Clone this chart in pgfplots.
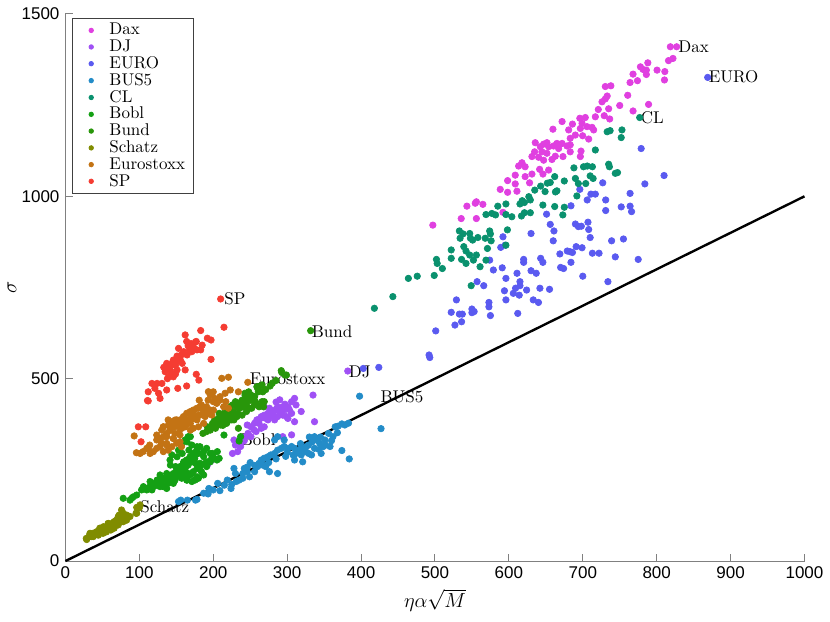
\documentclass[border=0pt]{standalone}
\usepackage{pgfplots}
\pgfplotsset{compat=1.18}
\usepackage{fontspec}
\newfontfamily\tickfont{Liberation Sans}
\definecolor{cDax}{HTML}{E040E0}
\definecolor{cDJ}{HTML}{A050F5}
\definecolor{cEURO}{HTML}{5A5AF0}
\definecolor{cBUS}{HTML}{238CC8}
\definecolor{cCL}{HTML}{0A916E}
\definecolor{cBobl}{HTML}{14A014}
\definecolor{cBund}{HTML}{28960A}
\definecolor{cSchatz}{HTML}{808C00}
\definecolor{cEuro}{HTML}{C37314}
\definecolor{cSP}{HTML}{F53C32}
\pgfplotsset{myleg/.style={only marks, mark=*, mark size=1.9pt,
  legend image code/.code={\fill[white] (0pt,-0.5pt) rectangle (16.5pt,0.5pt); \draw[##1, mark size=1.3pt] plot coordinates {(8pt,0pt)};}}}
\begin{document}
\begin{tikzpicture}
\useasboundingbox (-38.5pt,-35.3pt) rectangle (449.7pt,330pt);
\begin{axis}[
  scale only axis, width=434.7pt, height=321.8pt,
  xmin=0, xmax=1000, ymin=0, ymax=1500,
  axis x line=bottom, axis y line=left,
  axis line style={-, draw=black!50, line width=0.6pt},
  tick align=inside, major tick length=4.2pt,
  tick style={draw=black!50, line width=0.6pt},
  xtick={0,100,...,1000}, ytick={0,500,1000,1500},
  scaled ticks=false, /pgf/number format/1000 sep={},
  /pgf/number format/assume math mode=true,
  tick label style={font=\tickfont},
  xlabel={$\eta\alpha\sqrt{M}$}, ylabel={$\sigma$},
  xlabel style={font=\large, inner sep=0pt, at={(axis description cs:0.5,-0.072)}, anchor=center},
  ylabel style={font=\large, inner sep=0.5pt, at={(axis description cs:-0.0724,0.5)}, anchor=center},
  clip=false,
  legend style={at={(0.0084,0.992)}, anchor=north west, draw=black!75, line width=0.5pt,
    nodes={inner xsep=2pt, inner ysep=0.7pt}},
  legend cell align=left,
]
\addplot[myleg, color=cDax] coordinates {(818.5,1410)(827,1410)(822,1378)(816,1372)(788,1366)(778,1355)(781.5,1348)(786,1346)(800.5,1346)(811,1342)(768,1335)(786,1334)(774,1317)(764,1312)(810.5,1319)(730.5,1301)(738,1303)(733,1275)(730.5,1267)(760.8,1277)(726,1259)(789,1252)(750,1249)(721,1238)(735,1240)(768,1234)(729,1221)(736.4,1212)(717,1218)(696,1214)(703.4,1216)(672,1205)(686,1198)(699,1200)(705.7,1191)(712.5,1189)(696.7,1186)(659.6,1184)(680.9,1182)(714.7,1182)(689.9,1168)(699.8,1166)(683,1159)(708,1157)(635.7,1147)(647,1143)(651.5,1147)(665,1145)(672,1145)(683,1141)(642.5,1136)(653.8,1136)(660.5,1138)(678.6,1138)(667.3,1131)(634.8,1122)(644.7,1122)(651.5,1118)(662.8,1110)(673.2,1109)(683,1122)(697.6,1124)(696.7,1109)(631.2,1109)(640.2,1107)(647,1099)(658.3,1101)(617.7,1092)(622,1081)(613.2,1083)(641.6,1074)(653.8,1072)(631.2,1061)(646.1,1061)(608.6,1058)(622,1054)(598.3,1043)(628,1037)(608.6,1034)(588.3,1019)(598.3,1011)(610.9,1014)(543.2,973)(554.5,981)(556,985)(564.8,978)(535.5,939)(556,939)(592,956)(497.1,921)};
\addlegendentry{Dax}
\addplot[myleg, color=cDJ] coordinates {(310,446)(312,428)(306,437)(301,423)(296,414)(292,419)(287,423)(283,414)(278,410)(274,405)(269,400)(265,396)(260,387)(256,378)(251,368)(246,373)(306,405)(299,396)(294,400)(287,396)(283,387)(274,387)(269,368)(265,364)(258,355)(251,341)(244,341)(237,314)(233,300)(226,295)(228,332)(310,382)(301,391)(269,423)(276,419)(290,442)(294,423)(192,263)(194,270)(306,346)(294,341)(335,455)(337,382)(319,410)(382,521)(259,387)(265,392)(272,400)(281,405)(290,410)(297,430)(285,436)(262,377)(247,350)(240,328)(230,318)(197,275)(303,415)(279,398)(270,392)(255,360)(242,330)};
\addlegendentry{DJ}
\addplot[myleg, color=cEURO] coordinates {(869,1326)(779,1131)(810,1057)(784,1034)(764,1008)(727,1037)(696,1019)(711,1006)(717,1006)(706,990)(731,990)(684,974)(764,973)(752,971)(766,958)(731,961)(651,951)(656,923)(690,924)(707,929)(694,917)(698,918)(708,909)(661,905)(630,898)(592,889)(710,887)(660,878)(739,878)(755,883)(589,860)(595,866)(691,862)(699,859)(679,850)(683,848)(686,846)(669,842)(713,844)(722,844)(744,834)(775,827)(574,825)(620,827)(643,830)(646,819)(620,819)(684,819)(670,805)(674,802)(579,798)(591,804)(630,796)(637,789)(596,775)(611,789)(700,781)(557,766)(566,755)(734,766)(615,766)(615,755)(609,748)(594,741)(624,743)(642,748)(655,745)(606,734)(614,729)(633,716)(640,709)(596,716)(529,716)(573,709)(573,697)(522,682)(533,677)(537,677)(550,691)(550,681)(553,684)(575,673)(612,679)(536,656)(527,647)(501,631)(492,565)(493,558)(403,528)(424,531)};
\addlegendentry{EURO}
\addplot[myleg, color=cBUS] coordinates {(398,452)(427,363)(384,280)(374,303)(383,378)(378,373)(374,376)(369,370)(365,368)(362,341)(356,350)(351,332)(346,295)(344,323)(340,332)(337,341)(334,327)(329,318)(326,314)(319,309)(329,295)(333,291)(319,291)(312,295)(310,309)(306,314)(301,309)(296,314)(292,309)(287,304)(283,295)(278,291)(274,286)(269,282)(265,277)(267,263)(260,259)(256,245)(246,245)(242,254)(249,231)(240,227)(235,222)(228,254)(231,218)(224,199)(219,222)(206,213)(194,199)(187,186)(176,167)(165,167)(153,163)(287,341)(296,332)(283,332)(310,277)(321,272)(337,309)(349,314)(358,314)(287,240)(276,245)(271,259)(308,291)(156,167)(178,169)(193,184)(209,193)(250,270)(262,268)(300,298)(315,302)(325,300)(343,306)(352,318)(360,330)(368,352)(345,340)(330,340)(318,322)(298,287)(285,280)(275,270)(256,262)(246,258)(230,240)(215,208)(200,195)(225,210)(240,240)};
\addlegendentry{BUS5}
\addplot[myleg, color=cCL] coordinates {(777,1216)(733,1177)(737,1180)(753,1182)(752,1161)(717,1127)(735,1088)(736,1081)(744,1063)(747,1065)(688,1078)(701,1081)(706,1083)(713,1081)(662,1054)(690,1049)(710,1056)(714,1049)(675,1042)(694,1035)(704,1035)(643,1028)(652,1036)(656,1038)(635,1017)(649,1013)(663,1012)(665,1015)(692,1001)(627,999)(629,990)(618,988)(621,983)(615,979)(585,973)(596,979)(646,976)(662,972)(675,970)(569,950)(577,953)(582,949)(596,950)(604,944)(617,946)(621,955)(629,955)(673,949)(533,905)(547,898)(538,897)(574,905)(575,897)(598,908)(534,885)(548,885)(551,880)(558,887)(568,885)(576,878)(539,862)(522,853)(542,850)(547,839)(556,839)(571,857)(596,866)(522,830)(536,827)(502,827)(542,816)(552,825)(569,825)(503,816)(510,802)(561,807)(499,783)(476,781)(464,775)(549,755)(443,725)(418,693)};
\addlegendentry{CL}
\addplot[myleg, color=cBobl] coordinates {(235,329)(237,341)(214.5,345.5)(169,341)(164.5,327)(171,318)(178,313.5)(187,300)(178,295)(167,304)(158,295)(151,286)(160,272)(169,277)(176,268)(183,263)(192,272)(199,295)(205.5,300)(208,281.5)(142,263)(149,259)(155.5,254)(162,245)(171,240)(178,231)(187,236)(171,218)(164.5,222)(155.5,231)(146,240)(137,240)(133,227)(128,236)(124,222)(114.5,218)(121,208)(128,204)(137,199)(146,213)(110,199)(105.5,204)(103,195)(117,195)(96.4,181)(91.8,176)(87.3,167)(78.2,172)(182,313.5)(177.6,304)(173,295)(168.6,286)(164,277)(159.6,268)(155,259)(150.5,249.5)(141.5,231)(137,227)(132.5,222)(128,213)(123.5,208)(119,204)(114.4,204)(105.4,199)(179.9,295)(175,281.5)(171,272)(166,263)(162,254)(157,245)(153,236)(148,227)(144,217.5)(139,213)(135,208)(191,309)(196,295)(200,286)(205,277)(187,286)(182,268)(178,254)(173,245)(169,236)(164,227)(184,245)(191,259)(196,272)(166,341)(162,332)(157,318)(153,304)(144,291)(141.5,277)(89.6,172)(112,199)(119,213)(125.7,222)(143.8,236)(148.3,222)(157.3,227)(175.4,222)(179.9,227)(164.1,222)(166.3,240)(159.6,240)(182.1,259)(188.9,268)(109.9,195)(132.5,204)(197.9,281.5)};
\addlegendentry{Bobl}
\addplot[myleg, color=cBund] coordinates {(331.8,631.6)(292.7,517)(297,510)(292,522)(299,510)(277,480)(264,480)(260,473.5)(267,464)(256,451)(251,455)(243,460)(245.5,441.5)(238,437)(233,423)(226,428)(241,423)(249,419)(255.5,428)(262,423)(269,437)(219,414)(224,400)(214.5,396)(208,405)(205.5,387)(199,377.5)(203,364)(192,368)(210,373)(219,382)(228,387)(233,405)(259,478)(266,483)(261,464)(254,451)(250,441)(245,432)(241,428)(236,419)(232,423)(227,410)(223,400)(218,396)(214,387)(209,382)(205,373)(200,368)(196,359)(191,355)(243,455)(248,464)(239,441)(230,437)(223,423)(216,410)(211.5,400)(207,391)(202,387)(218,377.5)(225,387)(232,396)(239,400)(245,410)(252,419)(259,428)(266,437)(268,423)(234,364)(186,350)(213,372)(221,392)(236,432)(248,446)(257,437)(271,470)(280,488)(285,495)};
\addlegendentry{Bund}
\addplot[myleg, color=cSchatz] coordinates {(100,146)(96.4,131)(85,122)(82.7,112)(78.2,108)(75.9,140)(73.6,117)(69.1,103)(64.5,99)(60,90)(57.7,103)(55.5,94)(50.9,85)(46.4,90)(41.8,80)(37.3,76)(32.7,71)(28.2,62)(35,67)(44.1,76)(48.6,83)(53.2,80)(61.4,85)(65.9,90)(71.4,99)(75.9,108)(80.5,120)(69.1,112)(61.4,94)(57.7,87)(39.5,74)(50.9,76)(55.5,80)(65.9,108)(72.7,126)(78.2,131)(28.7,59)(35.4,71)(42.2,80)(49,87)(55.7,94)(62.5,103)(69.3,112)(76.1,122)(82.8,126)(87.3,122)(96.4,147)(100.9,154)(95.5,131)(33.2,76)(37.7,67)(46.7,76)(53.5,85)(60.3,90)(64.8,94)(67,108)(73.8,112)(80.6,117)(51.2,94)(44.5,71)(58,103)(71.5,122)};
\addlegendentry{Schatz}
\addplot[myleg, color=cEuro] coordinates {(246.7,490)(211.5,501)(220.5,504)(234,464)(223,469)(216,460)(200,464)(196,455)(202,446)(205,437)(209,441)(200,437)(193,441)(181,441)(184,428)(191,423)(196,414)(187,414)(180,419)(173,410)(169,400)(175,396)(182,400)(189,396)(193,405)(150.5,387)(155,377.5)(160,382)(164,387)(169,377.5)(162,368)(155,364)(148,368)(144,382)(139,387)(132.5,368)(141.5,359)(148,350)(155,345.5)(146,336)(137,341)(128,336)(123.5,332)(130,323)(137,318)(144,313.5)(139,304)(132.5,300)(123.5,309)(119,300)(110,309)(105,300)(101,295)(96,297)(93,343)(114,318)(169,359)(173,364)(180,368)(187,377.5)(178,387)(171,391)(220.5,419)(214,423)(217,437)(157,313.5)(155,327)(150.5,323)(112,309)(114.5,295)(128,332)(132.5,341)(137,350)(141.5,359)(146,368)(150.5,377.5)(155,387)(159.6,396)(164,405)(168.6,409.5)(173,414)(177.6,418.6)(182,423)(128,313.5)(137,322.6)(146,336)(153,350)(157.3,363.7)(166.3,377.5)(173,391)(180,400)(186.7,409.5)(123.5,345.5)(130.2,359)(139.3,373)(148.3,386.6)(132.5,368)(191.2,405)(198,400.3)(200.2,414)(204.7,432.3)(209.2,450.6)(198,459.7)(193.4,464.3)};
\addlegendentry{Eurostoxx}
\addplot[myleg, color=cSP] coordinates {(210,718.5)(214.5,641)(183,632)(162,620)(192,611)(197,606)(177,602)(164,602)(185,592)(178,579)(171,574)(153,583)(160,574)(151,562)(164.5,565)(155.5,551)(146,551)(137,542)(133,531)(142,533)(149,537)(158,542)(162,524)(135,519)(143,519)(139.5,505.5)(149,513)(151,524)(197,553)(177,512)(180.5,496)(164,480)(152,473.5)(130.5,487)(124,487)(117,487)(121,473.5)(112,464)(126,460)(128,446)(137,469)(111,440)(98.6,368)(108.6,368)(102.3,327)(176,601)(173,588)(183,579)(112,439)(166,590)(155,560)(145,545)(140,528)(168,578)(157,566)(150,548)(144,538)(170,596)(138,500)(146,505)};
\addlegendentry{SP}
\addplot[forget plot, no marks, sharp plot, black, line width=1.4pt] coordinates {(0,0)(1000,1000)};
\node[anchor=west, inner sep=0pt] at (axis cs:829,1409) {Dax};
\node[anchor=west, inner sep=0pt] at (axis cs:870,1327) {EURO};
\node[anchor=west, inner sep=0pt] at (axis cs:778,1215) {CL};
\node[anchor=west, inner sep=0pt] at (axis cs:214.6,718) {SP};
\node[anchor=west, inner sep=0pt] at (axis cs:333,630) {Bund};
\node[anchor=west, inner sep=0pt] at (axis cs:383,518) {DJ};
\node[anchor=west, inner sep=0pt] at (axis cs:249,500) {Eurostoxx};
\node[anchor=west, inner sep=0pt] at (axis cs:426,450) {BUS5};
\node[anchor=west, inner sep=0pt] at (axis cs:237,334) {Bobl};
\node[anchor=west, inner sep=0pt] at (axis cs:101,149) {Schatz};
\end{axis}
\end{tikzpicture}
\end{document}
